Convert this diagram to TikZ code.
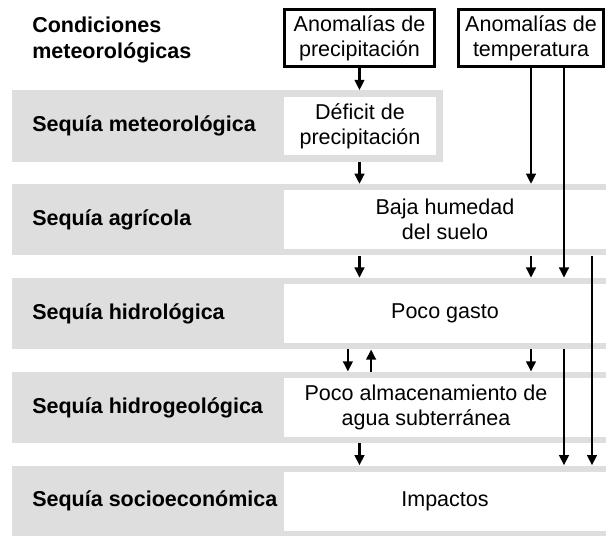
\documentclass[tikz,border=0pt]{standalone}
\usepackage{fontspec}
\setmainfont{Liberation Sans}
\usetikzlibrary{arrows.meta,calc}
\definecolor{gris}{RGB}{222,222,222}
\begin{document}
\begin{tikzpicture}[font=\fontsize{15.3}{17.8}\selectfont,
    banda/.style={fill=gris, minimum height=1.78cm, inner sep=0pt},
    caja/.style={fill=white, minimum height=1.47cm, align=center, inner sep=0pt},
    dato/.style={draw, line width=2pt, minimum height=1.43cm, align=center, inner sep=0pt},
    etiq/.style={anchor=west, align=left, inner sep=0pt, font=\fontsize{15.3}{17.8}\selectfont\bfseries},
    flecha/.style={line width=1.8pt, -{Triangle[width=6.8pt,length=7.3pt]}}]
      \useasboundingbox (0,0) rectangle (15.15,-13.4);
      \node[dato, minimum width=3.75cm] (P) at (8.9875,-0.95) {Anomalías de\\precipitación};
      \node[dato, minimum width=3.63cm] (T) at (13.275,-0.95) {Anomalías de\\temperatura};
      \node[etiq] (C) at (0.8,-1.0) {Condiciones\\meteorológicas};
      \node[banda, minimum width=10.775cm] (g1) at (5.6875,-3.15) {};
      \node[banda, minimum width=14.85cm] (g2) at (7.725,-5.495) {};
      \node[banda, minimum width=14.85cm] (g3) at (7.725,-7.84) {};
      \node[banda, minimum width=14.85cm] (g4) at (7.725,-10.185) {};
      \node[banda, minimum width=14.85cm] (g5) at (7.725,-12.53) {};
      \node[caja, minimum width=3.8cm] (w1) at (9.0,-3.15) {Déficit de\\precipitación};
      \node[caja, minimum width=8.05cm] (w2) at (11.125,-5.495) {Baja humedad\\del suelo};
      \node[caja, minimum width=8.05cm] (w3) at (11.125,-7.84) {Poco gasto};
      \node[caja, minimum width=8.05cm] (w4) at (11.125,-10.185) {};
      \node[align=center, inner sep=0pt] (x4) at ([xshift=-0.475cm]w4.center) {Poco almacenamiento de\\agua subterránea};
      \node[caja, minimum width=8.05cm] (w5) at (11.125,-12.53) {Impactos};
      \node[etiq] (t1) at (0.8,-3.15) {Sequía meteorológica};
      \node[etiq] (t2) at (0.8,-5.495) {Sequía agrícola};
      \node[etiq] (t3) at (0.8,-7.84) {Sequía hidrológica};
      \node[etiq] (t4) at (0.8,-10.185) {Sequía hidrogeológica};
      \node[etiq] (t5) at (0.8,-12.53) {Sequía socioeconómica};
      \coordinate (T1) at ($(T.south)+(0.825,0)$);
      \coordinate (T2) at ($(g2.south -| T)+(1.525,0)$);
      \draw[flecha] (P) -- (P |- g1.north);
      \draw[flecha] (g1.south -| P) -- (g2.north -| P);
      \draw[flecha] (g2.south -| P) -- (g3.north -| P);
      \draw[flecha] ($(g3.south -| P)+(-0.29,0)$) -- ($(g4.north -| P)+(-0.29,0)$);
      \draw[flecha] ($(g4.north -| P)+(0.29,0)$) -- ($(g3.south -| P)+(0.29,0)$);
      \draw[flecha] (g4.south -| P) -- (g5.north -| P);
      \draw[flecha] (T) -- (T |- g2.north);
      \draw[flecha] (T1) -- (T1 |- g3.north);
      \draw[flecha] (g2.south -| T) -- (g3.north -| T);
      \draw[flecha] (g3.south -| T) -- (g4.north -| T);
      \draw[flecha] (g3.south -| T1) -- (g5.north -| T1);
      \draw[flecha] (T2) -- (T2 |- g5.north);
    \end{tikzpicture}
\end{document}
